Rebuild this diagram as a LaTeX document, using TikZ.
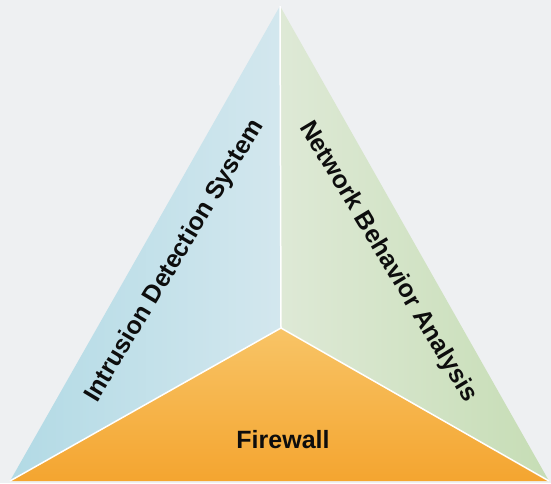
\documentclass[tikz,border=0pt]{standalone}
\usepackage{fontspec}
\setmainfont{Liberation Sans}
\definecolor{bggray}{HTML}{EEF0F2}
\definecolor{idsout}{HTML}{B2DAE5}
\definecolor{idsin}{HTML}{D3E7EE}
\definecolor{nbaout}{HTML}{C6DDB5}
\definecolor{nbain}{HTML}{DEE9D6}
\definecolor{fwout}{HTML}{F4A530}
\definecolor{fwin}{HTML}{F8C466}
\tikzstyle{sep} = [draw=white, line width=1.5pt]
\tikzstyle{sidetext} = [font=\bfseries\fontsize{25}{30}\selectfont, text=black!95, inner sep=0pt]

\begin{document}
\begin{tikzpicture}[x=1pt,y=1pt]
  \fill[bggray] (0,0) rectangle (551,483);
  \coordinate (top) at (280,477);
  \coordinate (bl) at (10,2);
  \coordinate (br) at (549,2);
  \coordinate (mid) at (281,155);
  \shade[left color=idsout, right color=idsin] (bl) -- (top) -- (mid) -- cycle;
  \shade[left color=nbain, right color=nbaout] (top) -- (br) -- (mid) -- cycle;
  \shade[top color=fwin, bottom color=fwout] (bl) -- (mid) -- (br) -- cycle;
  \draw[sep] (top) -- (mid);
  \draw[sep] (bl) -- (mid) -- (br);
  \draw (175,222)node[sidetext, rotate=59](ids){Intrusion Detection System};
  \draw (388,221)node[sidetext, rotate=-59](nba){Network Behavior Analysis};
  \draw (283,43)node[sidetext](fw){Firewall};
\end{tikzpicture}
\end{document}
